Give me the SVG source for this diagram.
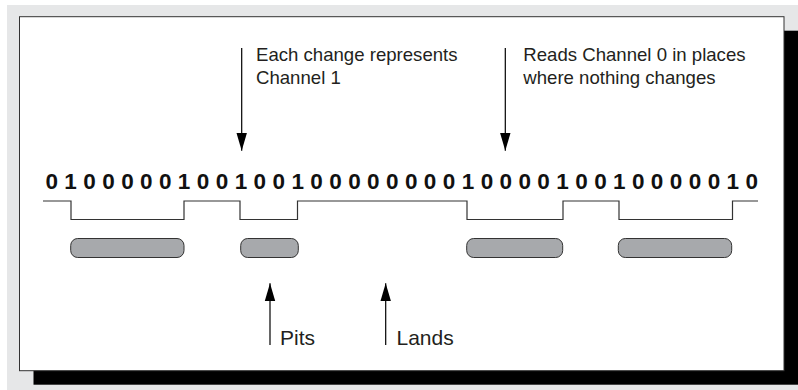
<svg xmlns="http://www.w3.org/2000/svg" width="798" height="390" viewBox="0 0 798 390">
<defs>
<style>
.lbl{font-family:"Liberation Sans",Arial,sans-serif;font-size:18.6px;fill:#231f20}
.big{font-size:21px}
.bits{font-family:"Liberation Sans",Arial,sans-serif;font-size:22.5px;font-weight:bold;fill:#111}
.arr{stroke:#000;stroke-width:1.2;fill:none}
.pit{fill:#a7a9ac;stroke:#333;stroke-width:1}
.wave{fill:none;stroke:#333;stroke-width:1.2}
</style>
<marker id="ah" markerUnits="userSpaceOnUse" markerWidth="18" markerHeight="12" viewBox="0 0 17 10" refX="17" refY="5" orient="auto">
<path d="M0,0 L17,5 L0,10 Z" fill="#000"/>
</marker>
</defs>
<rect x="0" y="0" width="798" height="390" fill="#fff"/>
<rect x="7" y="5" width="791" height="385" fill="#e6e7e8"/>
<rect x="33.5" y="30.7" width="764.5" height="354" fill="#000"/>
<rect x="19.5" y="16.7" width="764.5" height="354" fill="#fff" stroke="#333" stroke-width="1"/>

<g id="bits">
<text class="bits" y="189" text-anchor="middle" x="51.7 70.6 89.5 108.5 127.4 146.3 165.2 184.1 203.1 222 240.9 259.8 278.7 297.7 316.6 335.5 354.4 373.3 392.3 411.2 430.1 449 467.9 486.9 505.8 524.7 543.6 562.5 581.5 600.4 619.3 638.2 657.1 676.1 695 713.9 732.8 751.7">01000001001001000000001000010010000010</text>
</g>

<g id="waveform">
<path class="wave" d="M43,201 H71 V219.5 H184 V201 H240 V219.5 H297.5 V201 H467 V219.5 H563 V201 H619 V219.5 H732.5 V201 H758"/>
</g>

<g id="pits">
<rect class="pit" x="70.7" y="238.5" width="113.3" height="19" rx="7"/>
<rect class="pit" x="240.7" y="238.5" width="57.6" height="19" rx="7"/>
<rect class="pit" x="466.7" y="238.5" width="96" height="19" rx="7"/>
<rect class="pit" x="618.3" y="238.5" width="113.4" height="19" rx="7"/>
</g>

<g id="connectors">
<line class="arr" x1="241.7" y1="48" x2="241.7" y2="150.7" marker-end="url(#ah)"/>
<line class="arr" x1="505.3" y1="48" x2="505.3" y2="150.7" marker-end="url(#ah)"/>
<line class="arr" x1="270" y1="345" x2="270" y2="283.3" marker-end="url(#ah)"/>
<line class="arr" x1="385.7" y1="345" x2="385.7" y2="283.3" marker-end="url(#ah)"/>
</g>

<g id="label-change">
<text class="lbl" x="256" y="61">Each change represents</text>
<text class="lbl" x="256" y="83.5">Channel 1</text>
</g>
<g id="label-reads">
<text class="lbl" x="523.3" y="61">Reads Channel 0 in places</text>
<text class="lbl" x="523.3" y="83.5">where nothing changes</text>
</g>
<g id="label-pits">
<text class="lbl big" x="280" y="345">Pits</text>
</g>
<g id="label-lands">
<text class="lbl big" x="396.5" y="345">Lands</text>
</g>
</svg>
